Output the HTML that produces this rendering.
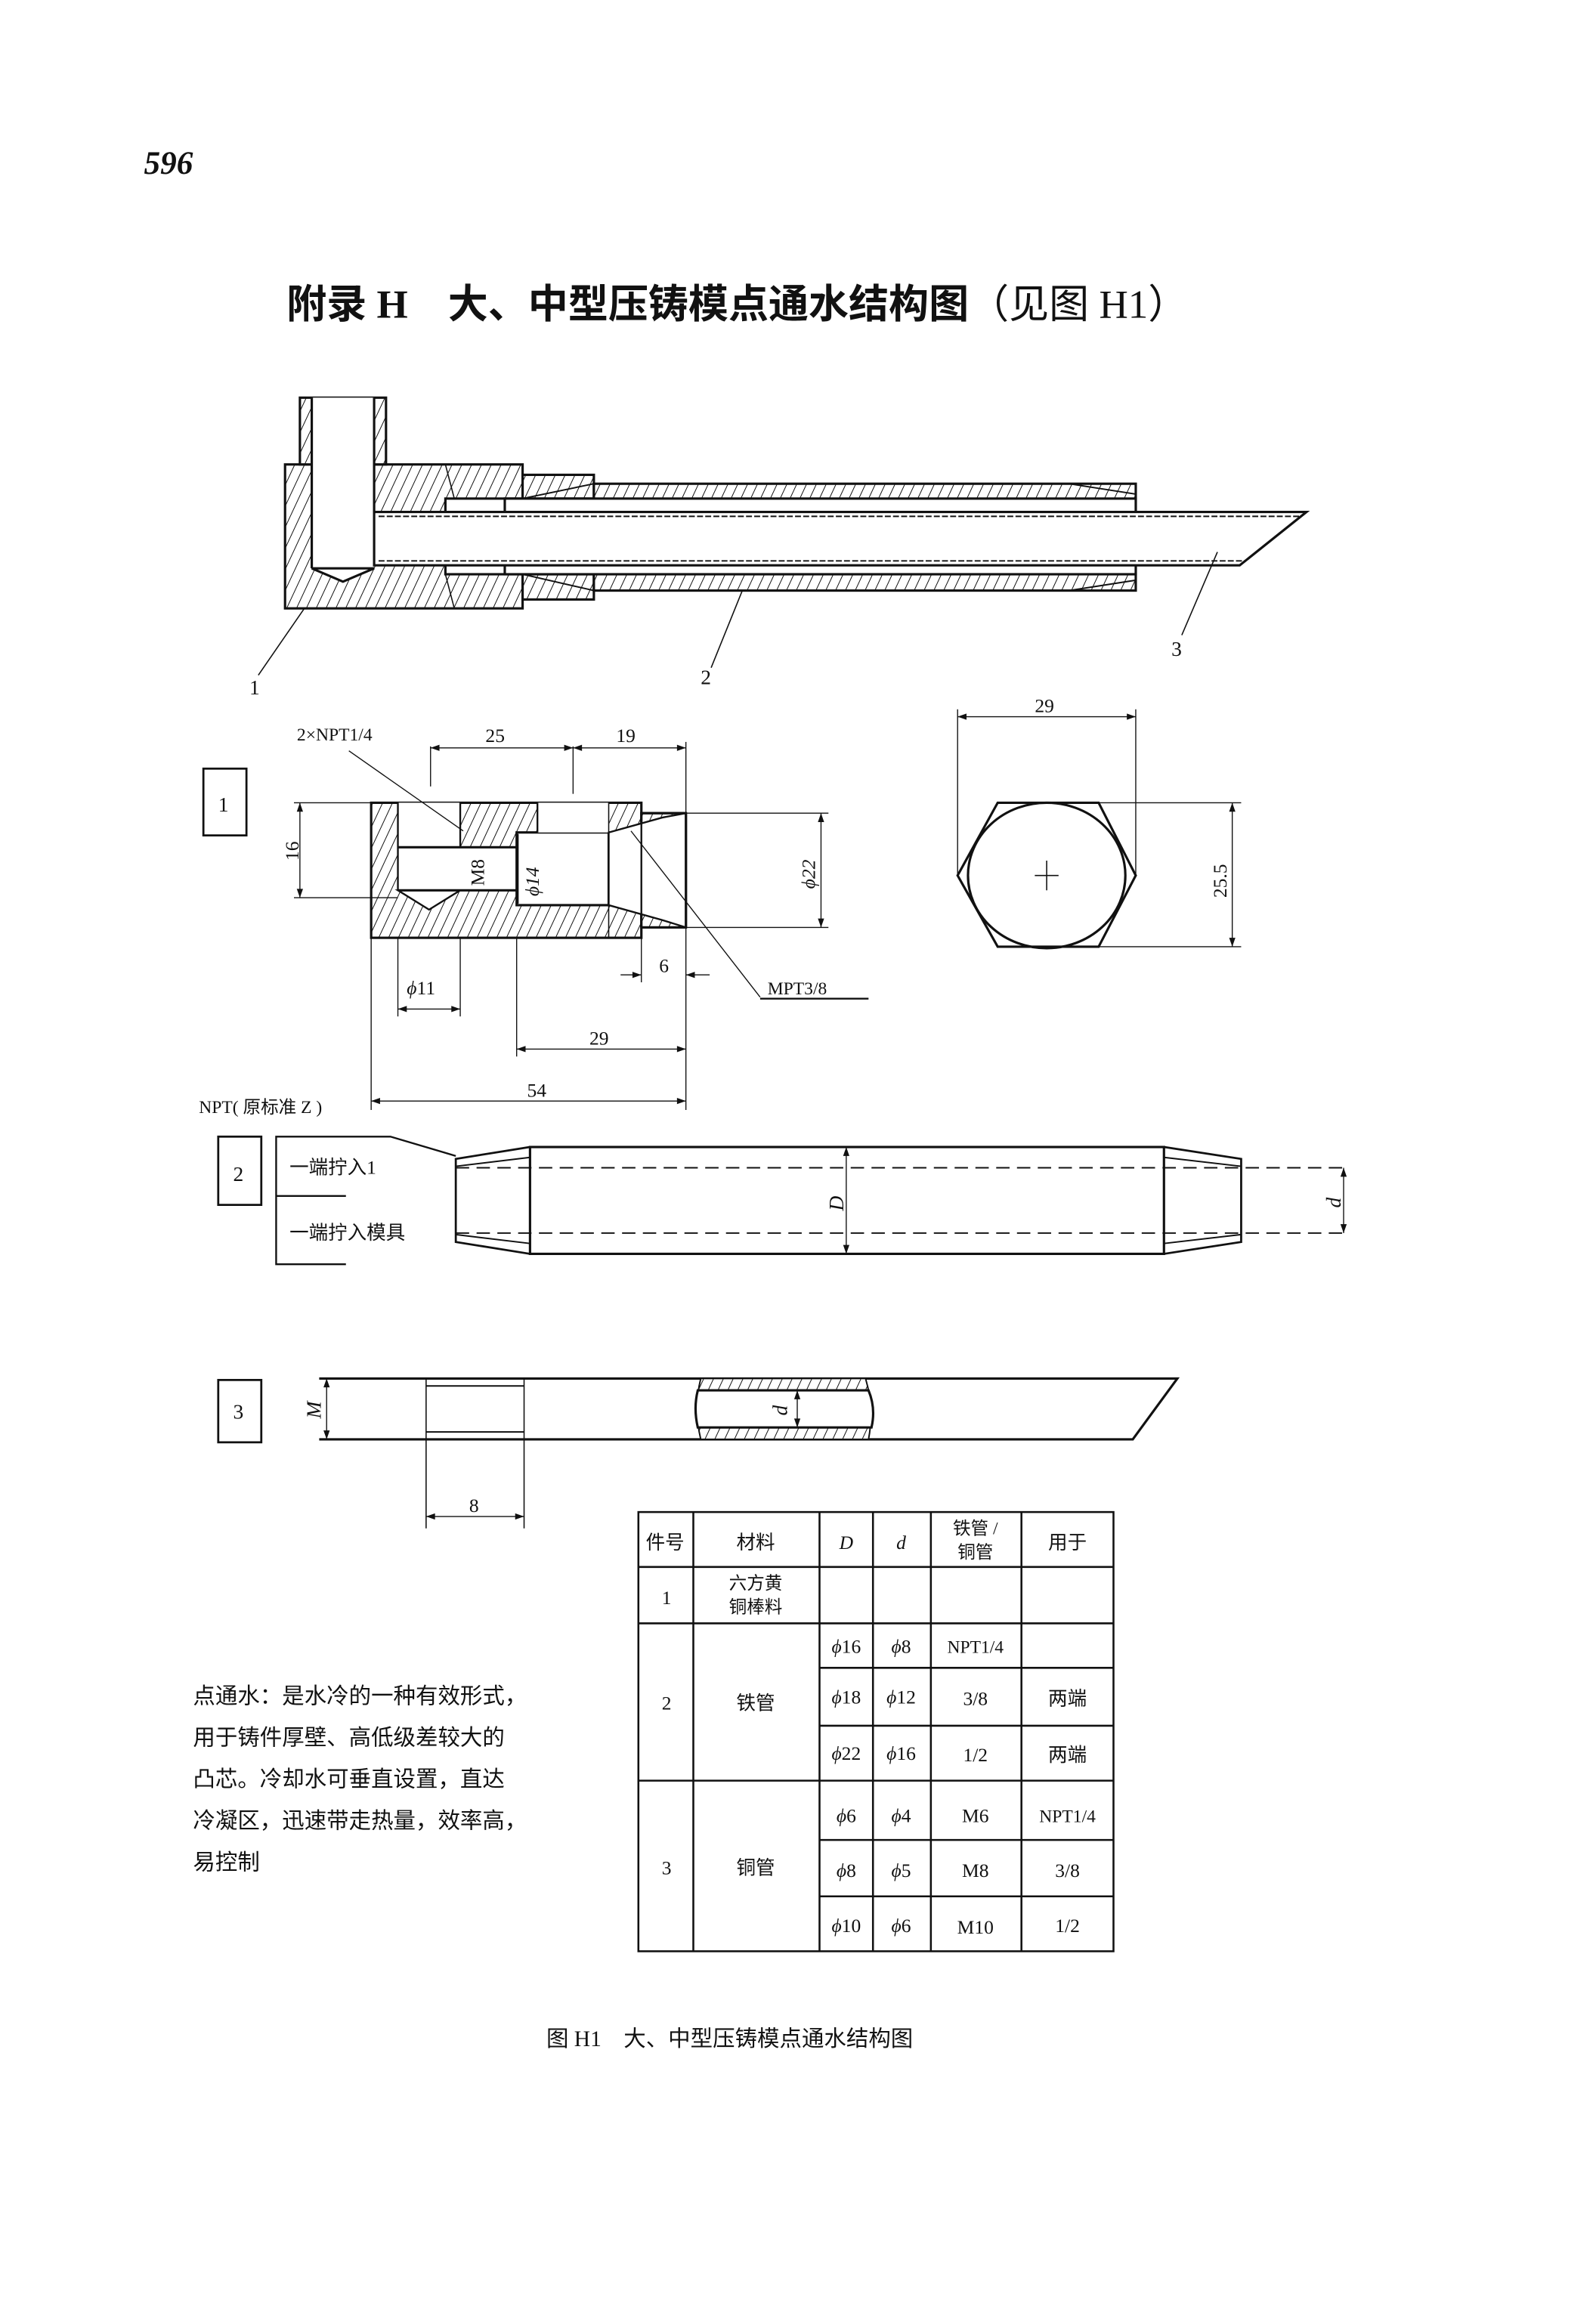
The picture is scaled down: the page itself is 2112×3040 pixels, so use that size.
<!DOCTYPE html>
<html><head><meta charset="utf-8"><style>
html,body{margin:0;padding:0;background:#fff;}
svg{display:block;}
text{font-family:"Liberation Serif","Noto Serif CJK SC","Noto Sans CJK SC",serif;fill:#111;}
.cn{font-family:"Liberation Serif","Noto Sans CJK SC",sans-serif;}
</style></head><body>
<svg width="2112" height="3040" viewBox="0 0 1075 1548" preserveAspectRatio="none" xmlns="http://www.w3.org/2000/svg">
<defs>
<pattern id="h" patternUnits="userSpaceOnUse" width="6" height="6" patternTransform="rotate(25)">
<rect width="6" height="6" fill="#fff"/><line x1="0" y1="0" x2="0" y2="6" stroke="#111" stroke-width="1"/>
</pattern>
<marker id="a" viewBox="0 0 10 10" refX="10" refY="5" markerWidth="8" markerHeight="6" orient="auto-start-reverse" markerUnits="userSpaceOnUse"><path d="M0,1.5 L10,5 L0,8.5z" fill="#111"/></marker>
</defs>
<rect width="1075" height="1548" fill="#fff"/>

<text x="97" y="117" font-size="22" font-style="italic" font-weight="bold">596</text>
<text x="193" y="214" font-size="27" font-weight="bold" class="cn">附录 H　大、中型压铸模点通水结构图<tspan font-weight="normal">（见图 H1）</tspan></text>

<!-- ===== top assembly ===== -->
<g stroke="#111" stroke-width="1.6" fill="none">
<rect x="192" y="313" width="160" height="97" fill="url(#h)"/>
<rect x="202" y="268" width="58" height="45" fill="url(#h)"/>
<rect x="210" y="268" width="42" height="115" fill="#fff" stroke="none"/>
<line x1="210" y1="268" x2="210" y2="383"/><line x1="252" y1="268" x2="252" y2="345"/>
<polygon points="210,383 252,383 231,392" fill="#fff"/>
<rect x="300" y="336" width="52" height="51" fill="#fff"/>
<rect x="352" y="320" width="48" height="16" fill="url(#h)"/>
<rect x="352" y="387" width="48" height="17" fill="url(#h)"/>
<rect x="400" y="326" width="365" height="72" fill="url(#h)"/>
<rect x="340" y="336" width="425" height="51" fill="#fff"/>
<line x1="300" y1="313" x2="306" y2="336" stroke-width="0.8"/>
<line x1="300" y1="387" x2="306" y2="410" stroke-width="0.8"/>
<line x1="352" y1="336" x2="400" y2="326" stroke-width="1"/>
<line x1="352" y1="387" x2="400" y2="398" stroke-width="1"/>
<line x1="720" y1="326" x2="765" y2="333" stroke-width="1"/>
<line x1="720" y1="398" x2="765" y2="391" stroke-width="1"/>
<!-- tube 3 -->
<polygon points="252,345 880,345 835,381 252,381" fill="#fff"/>
<line x1="255" y1="348" x2="876" y2="348" stroke-width="1" stroke-dasharray="4 1.5"/>
<line x1="255" y1="378" x2="839" y2="378" stroke-width="1" stroke-dasharray="4 1.5"/>
<!-- leaders -->
<line x1="205" y1="410" x2="174" y2="455" stroke-width="0.8"/>
<line x1="500" y1="398" x2="479" y2="450" stroke-width="0.8"/>
<line x1="820" y1="372" x2="796" y2="428" stroke-width="0.8"/>
</g>
<text x="168" y="468" font-size="14">1</text>
<text x="472" y="461" font-size="14">2</text>
<text x="789" y="442" font-size="14">3</text>

<!-- ===== part 1 ===== -->
<rect x="137" y="518" width="29" height="45" fill="none" stroke="#111" stroke-width="1.4"/>
<text x="147" y="547" font-size="14">1</text>
<g stroke="#111" fill="none">
<!-- body -->
<rect x="250" y="541" width="182" height="91" fill="url(#h)" stroke-width="1.6"/>
<polygon points="432,548 462,548 462,625 432,625" fill="url(#h)" stroke-width="1.6"/>
<polygon points="268,541 310,541 310,571 268,571" fill="#fff" stroke="none"/>
<rect x="268" y="571" width="80" height="29" fill="#fff" stroke="none"/>
<polygon points="268,600 310,600 289,613" fill="#fff" stroke-width="1.2"/>
<rect x="348" y="561" width="62" height="49" fill="#fff" stroke-width="1.6"/>
<polygon points="362,541 410,541 410,561 362,561" fill="#fff" stroke="none"/>
<polygon points="410,561 446,551 462,548 462,625 446,620 410,610" fill="#fff" stroke-width="1.2"/>
<line x1="268" y1="541" x2="268" y2="600" stroke-width="1.2"/>
<line x1="310" y1="541" x2="310" y2="571" stroke-width="1.2"/>
<line x1="362" y1="541" x2="362" y2="561" stroke-width="1.2"/>
<line x1="268" y1="571" x2="348" y2="571" stroke-width="1.6"/>
<line x1="268" y1="600" x2="348" y2="600" stroke-width="1.6"/>
<line x1="410" y1="541" x2="410" y2="632" stroke-width="0.8"/>
<line x1="432" y1="541" x2="432" y2="632" stroke-width="1.2"/>
<line x1="462" y1="548" x2="462" y2="625" stroke-width="1.6"/>
<line x1="432" y1="548" x2="462" y2="548" stroke-width="1.6"/>
<line x1="432" y1="625" x2="462" y2="625" stroke-width="1.6"/>
<!-- dims -->
<g stroke-width="0.7">
<line x1="198" y1="541" x2="250" y2="541"/><line x1="198" y1="605" x2="268" y2="605"/>
<line x1="202" y1="541" x2="202" y2="605" marker-start="url(#a)" marker-end="url(#a)"/>
<line x1="290" y1="503" x2="290" y2="530"/><line x1="386" y1="503" x2="386" y2="535"/><line x1="462" y1="500" x2="462" y2="548"/>
<line x1="290" y1="504" x2="386" y2="504" marker-start="url(#a)" marker-end="url(#a)"/>
<line x1="386" y1="504" x2="462" y2="504" marker-start="url(#a)" marker-end="url(#a)"/>
<line x1="462" y1="548" x2="558" y2="548"/><line x1="462" y1="625" x2="558" y2="625"/>
<line x1="553" y1="548" x2="553" y2="625" marker-start="url(#a)" marker-end="url(#a)"/>
<line x1="268" y1="632" x2="268" y2="685"/><line x1="310" y1="632" x2="310" y2="685"/>
<line x1="268" y1="680" x2="310" y2="680" marker-start="url(#a)" marker-end="url(#a)"/>
<line x1="348" y1="632" x2="348" y2="712"/><line x1="462" y1="625" x2="462" y2="748"/><line x1="250" y1="632" x2="250" y2="748"/>
<line x1="348" y1="707" x2="462" y2="707" marker-start="url(#a)" marker-end="url(#a)"/>
<line x1="250" y1="742" x2="462" y2="742" marker-start="url(#a)" marker-end="url(#a)"/>
<line x1="432" y1="632" x2="432" y2="662"/>
<line x1="418" y1="657" x2="432" y2="657" marker-end="url(#a)"/>
<line x1="478" y1="657" x2="462" y2="657" marker-end="url(#a)"/>
<line x1="235" y1="506" x2="312" y2="560"/>
<line x1="512" y1="672" x2="425" y2="560"/>
<line x1="512" y1="673" x2="585" y2="673" stroke-width="1.2"/>
<line x1="349" y1="562" x2="349" y2="609"/>
</g>
</g>
<text font-size="13" transform="translate(201,580) rotate(-90)">16</text>
<text x="200" y="499" font-size="12">2×NPT1/4</text>
<text x="327" y="500" font-size="13">25</text>
<text x="415" y="500" font-size="13">19</text>
<text font-size="13" transform="translate(326,597) rotate(-90)">M8</text>
<text font-size="13" font-style="italic" transform="translate(363,604) rotate(-90)">ϕ14</text>
<text font-size="13" font-style="italic" transform="translate(549,599) rotate(-90)">ϕ22</text>
<text x="274" y="670" font-size="13"><tspan font-style="italic">ϕ</tspan>11</text>
<text x="444" y="655" font-size="13">6</text>
<text x="517" y="670" font-size="12">MPT3/8</text>
<text x="397" y="704" font-size="13">29</text>
<text x="355" y="739" font-size="13">54</text>
<text x="134" y="750" font-size="12" class="cn">NPT( 原标准 Z )</text>

<!-- hex -->
<g stroke="#111" fill="none">
<polygon points="645,590 672,541 740,541 765,590 740,638 672,638" stroke-width="1.6"/>
<ellipse cx="705" cy="590" rx="53" ry="49" stroke-width="1.6"/>
<line x1="697" y1="590" x2="713" y2="590" stroke-width="0.8"/><line x1="705" y1="580" x2="705" y2="600" stroke-width="0.8"/>
<g stroke-width="0.7">
<line x1="645" y1="478" x2="645" y2="590"/><line x1="765" y1="478" x2="765" y2="590"/>
<line x1="645" y1="483" x2="765" y2="483" marker-start="url(#a)" marker-end="url(#a)"/>
<line x1="740" y1="541" x2="836" y2="541"/><line x1="740" y1="638" x2="836" y2="638"/>
<line x1="830" y1="541" x2="830" y2="638" marker-start="url(#a)" marker-end="url(#a)"/>
</g>
</g>
<text x="697" y="480" font-size="13">29</text>
<text font-size="13" transform="translate(826,605) rotate(-90)">25.5</text>

<!-- ===== part 2 ===== -->
<rect x="147" y="766" width="29" height="46" fill="none" stroke="#111" stroke-width="1.4"/>
<text x="157" y="796" font-size="14">2</text>
<g stroke="#111" fill="none">
<polyline points="233,852 186,852 186,766 263,766 307,779" stroke-width="1.2"/>
<line x1="186" y1="806" x2="233" y2="806" stroke-width="1.2"/>
<rect x="357" y="773" width="427" height="72" stroke-width="1.6"/>
<polyline points="357,773 307,781 307,837 357,845" stroke-width="1.4"/>
<line x1="307" y1="786" x2="357" y2="780" stroke-width="1"/><line x1="307" y1="832" x2="357" y2="838" stroke-width="1"/>
<polyline points="784,773 836,781 836,837 784,845" stroke-width="1.4"/>
<line x1="836" y1="786" x2="784" y2="780" stroke-width="1"/><line x1="836" y1="832" x2="784" y2="838" stroke-width="1"/>
<line x1="307" y1="787" x2="908" y2="787" stroke-width="1" stroke-dasharray="9 5"/>
<line x1="307" y1="831" x2="908" y2="831" stroke-width="1" stroke-dasharray="9 5"/>
<line x1="570" y1="773" x2="570" y2="845" stroke-width="0.7" marker-start="url(#a)" marker-end="url(#a)"/>
<line x1="905" y1="787" x2="905" y2="831" stroke-width="0.7" marker-start="url(#a)" marker-end="url(#a)"/>
</g>
<text x="195" y="791" font-size="13" class="cn">一端拧入1</text>
<text x="195" y="835" font-size="13" class="cn">一端拧入模具</text>
<text font-size="14" font-style="italic" transform="translate(568,816) rotate(-90)">D</text>
<text font-size="14" font-style="italic" transform="translate(903,814) rotate(-90)">d</text>

<!-- ===== part 3 ===== -->
<rect x="147" y="930" width="29" height="42" fill="none" stroke="#111" stroke-width="1.4"/>
<text x="157" y="956" font-size="14">3</text>
<g stroke="#111" fill="none">
<polyline points="215,929 793,929 763,970 215,970" stroke-width="1.6"/>
<line x1="287" y1="929" x2="287" y2="1030" stroke-width="0.8"/>
<line x1="353" y1="929" x2="353" y2="1030" stroke-width="0.8"/>
<line x1="287" y1="934" x2="353" y2="934" stroke-width="1"/>
<line x1="287" y1="965" x2="353" y2="965" stroke-width="1"/>
<path d="M472,929 L583,929 Q589,949 585,970 L472,970 Q467,949 472,929z" fill="url(#h)" stroke-width="1"/>
<path d="M470,937 L585,937 Q590,949 587,962 L470,962 Q467,949 470,937z" fill="#fff" stroke-width="1.6"/>
<line x1="220" y1="929" x2="220" y2="970" stroke-width="0.7" marker-start="url(#a)" marker-end="url(#a)"/>
<line x1="537" y1="937" x2="537" y2="962" stroke-width="0.7" marker-start="url(#a)" marker-end="url(#a)"/>
<line x1="287" y1="1022" x2="353" y2="1022" stroke-width="0.7" marker-start="url(#a)" marker-end="url(#a)"/>
</g>
<text font-size="14" font-style="italic" transform="translate(216,956) rotate(-90)">M</text>
<text font-size="14" font-style="italic" transform="translate(530,954) rotate(-90)">d</text>
<text x="316" y="1019" font-size="13">8</text>

<!-- ===== table ===== -->
<g stroke="#111" stroke-width="1.3" fill="none">
<rect x="430" y="1019" width="320" height="296"/>
<line x1="430" y1="1056" x2="750" y2="1056"/>
<line x1="430" y1="1094" x2="750" y2="1094"/>
<line x1="552" y1="1124" x2="750" y2="1124"/>
<line x1="552" y1="1163" x2="750" y2="1163"/>
<line x1="430" y1="1200" x2="750" y2="1200"/>
<line x1="552" y1="1240" x2="750" y2="1240"/>
<line x1="552" y1="1278" x2="750" y2="1278"/>
<line x1="467" y1="1019" x2="467" y2="1315"/>
<line x1="552" y1="1019" x2="552" y2="1315"/>
<line x1="588" y1="1019" x2="588" y2="1315"/>
<line x1="627" y1="1019" x2="627" y2="1315"/>
<line x1="688" y1="1019" x2="688" y2="1315"/>
</g>
<g font-size="13" text-anchor="middle" class="cn">
<text x="448" y="1044" class="cn">件号</text><text x="509" y="1044" class="cn">材料</text>
<text x="570" y="1044" font-style="italic">D</text><text x="607" y="1044" font-style="italic">d</text>
<text x="657" y="1034" font-size="12" class="cn">铁管 /</text><text x="657" y="1050" font-size="12" class="cn">铜管</text>
<text x="719" y="1044" class="cn">用于</text>
<text x="449" y="1081">1</text>
<text x="509" y="1071" font-size="12" class="cn">六方黄</text><text x="509" y="1087" font-size="12" class="cn">铜棒料</text>
<text x="449" y="1152">2</text><text x="509" y="1152" class="cn">铁管</text>
<text x="570" y="1114"><tspan font-style="italic">ϕ</tspan>16</text><text x="607" y="1114"><tspan font-style="italic">ϕ</tspan>8</text><text x="657" y="1114" font-size="12">NPT1/4</text>
<text x="570" y="1148"><tspan font-style="italic">ϕ</tspan>18</text><text x="607" y="1148"><tspan font-style="italic">ϕ</tspan>12</text><text x="657" y="1149">3/8</text><text x="719" y="1149" class="cn">两端</text>
<text x="570" y="1186"><tspan font-style="italic">ϕ</tspan>22</text><text x="607" y="1186"><tspan font-style="italic">ϕ</tspan>16</text><text x="657" y="1187">1/2</text><text x="719" y="1187" class="cn">两端</text>
<text x="449" y="1263">3</text><text x="509" y="1263" class="cn">铜管</text>
<text x="570" y="1228"><tspan font-style="italic">ϕ</tspan>6</text><text x="607" y="1228"><tspan font-style="italic">ϕ</tspan>4</text><text x="657" y="1228">M6</text><text x="719" y="1228" font-size="12">NPT1/4</text>
<text x="570" y="1265"><tspan font-style="italic">ϕ</tspan>8</text><text x="607" y="1265"><tspan font-style="italic">ϕ</tspan>5</text><text x="657" y="1265">M8</text><text x="719" y="1265">3/8</text>
<text x="570" y="1302"><tspan font-style="italic">ϕ</tspan>10</text><text x="607" y="1302"><tspan font-style="italic">ϕ</tspan>6</text><text x="657" y="1303">M10</text><text x="719" y="1302">1/2</text>
</g>

<!-- paragraph -->
<g font-size="15" class="cn">
<text x="130" y="1148" class="cn">点通水：是水冷的一种有效形式，</text>
<text x="130" y="1176" class="cn">用于铸件厚壁、高低级差较大的</text>
<text x="130" y="1204" class="cn">凸芯。冷却水可垂直设置，直达</text>
<text x="130" y="1232" class="cn">冷凝区，迅速带走热量，效率高，</text>
<text x="130" y="1260" class="cn">易控制</text>
</g>

<text x="368" y="1379" font-size="15" class="cn">图 H1　大、中型压铸模点通水结构图</text>
</svg>
</body></html>
